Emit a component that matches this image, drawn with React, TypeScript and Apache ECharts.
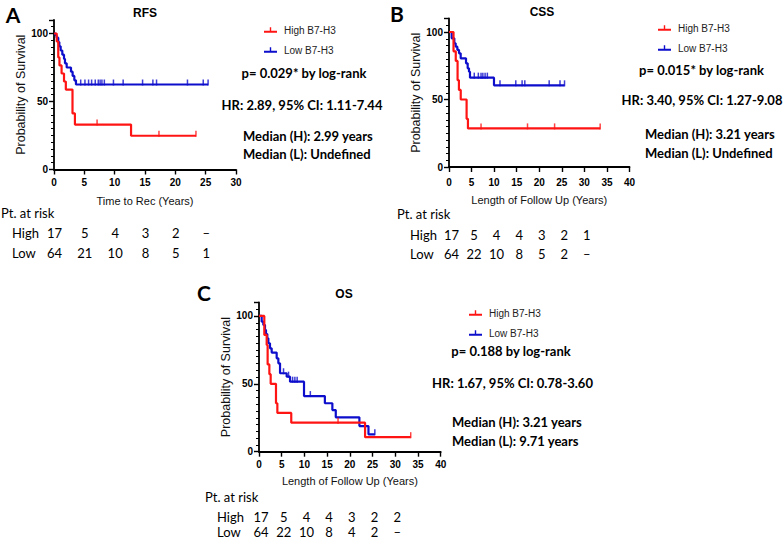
import React, { useEffect, useRef } from "react";
import * as echarts from "echarts";

// ---------------- DATA ----------------
// RFS (panel A)
const rfsHighT = [0, 0.45, 0.7, 0.9, 1.25, 1.65, 1.95, 3.05, 3.45, 12.7, 23.4];
const rfsHighS = [100, 94.1, 82.4, 76.5, 70.6, 64.7, 58.8, 41.2, 33.0, 24.8, 24.8];
const rfsHighCensor = [7.1, 17.3, 23.4];
const rfsLowT = [0, 0.3, 0.44, 0.7, 0.88, 1.1, 1.37, 1.65, 1.81, 2.09, 2.8, 3.07, 3.35, 3.62, 25.4];
const rfsLowS = [100, 98.4, 96.9, 93.7, 90.6, 87.5, 84.4, 81.3, 78.1, 75.0, 71.9, 68.8, 65.6, 62.5, 62.5];
const rfsLowCensor = [4.4, 5.1, 5.7, 6.2, 6.8, 7.3, 7.6, 7.9, 8.3, 9.8, 11.4, 14.6, 16.3, 16.9, 22.0, 24.6, 25.4];

// CSS (panel B)
const cssHighT = [0, 1.0, 1.5, 1.9, 2.2, 2.6, 3.9, 4.2, 33.5];
const cssHighS = [100, 85.7, 78.6, 64.3, 57.1, 50.0, 35.7, 28.6, 28.6];
const cssHighCensor = [7.1, 17.4, 23.4, 33.5];
const cssLowT = [0, 0.59, 1.18, 1.48, 1.85, 2.22, 2.59, 3.77, 4.14, 4.43, 4.65, 9.97, 25.6];
const cssLowS = [100, 95.3, 91.6, 89.1, 86.7, 84.2, 80.5, 76.8, 73.1, 70.6, 66.2, 60.5, 60.5];
const cssLowCensor = [5.6, 6.5, 7.1, 7.5, 8.0, 8.5, 11.3, 14.8, 16.2, 16.8, 22.2, 24.6, 25.6];

// OS (panel C)
const osHighT = [0, 1.17, 1.69, 1.9, 2.28, 2.57, 3.74, 4.04, 7.1, 23.35, 33.4];
const osHighS = [100, 86.0, 78.6, 64.3, 57.1, 50.0, 35.7, 28.6, 21.4, 10.7, 10.7];
const osHighCensor = [17.4, 33.4];
const osLowT = [0, 0.59, 0.95, 1.32, 1.54, 1.83, 2.06, 2.42, 2.79, 3.89, 4.26, 4.63, 6.09, 6.83, 9.91, 14.5, 16.15, 16.9, 22.1, 24.1, 25.5];
const osLowS = [100, 95.8, 93.4, 89.7, 86.7, 83.5, 79.9, 76.2, 73.0, 68.8, 65.1, 57.8, 55.3, 51.6, 41.0, 35.7, 30.7, 25.3, 18.9, 12.8, 12.8];
const osLowCensor = [5.4, 6.5, 7.4, 7.9, 8.4, 11.3, 25.5];

// Numbers at risk
const riskTimesA = [0, 5, 10, 15, 20, 25];
const riskHighA = ["17", "5", "4", "3", "2", "–"];
const riskLowA = ["64", "21", "10", "8", "5", "1"];
const riskTimesB = [0, 5, 10, 15, 20, 25, 30];
const riskHighB = ["17", "5", "4", "4", "3", "2", "1"];
const riskLowB = ["64", "22", "10", "8", "5", "2", "–"];
const riskTimesC = [0, 5, 10, 15, 20, 25, 30];
const riskHighC = ["17", "5", "4", "4", "3", "2", "2"];
const riskLowC = ["64", "22", "10", "8", "4", "2", "–"];

// Texts
const seriesNames = ["High B7-H3", "Low B7-H3"];
const panelLetters = ["A", "B", "C"];
const panelTitles = ["RFS", "CSS", "OS"];
const xAxisNames = ["Time to Rec (Years)", "Length of Follow Up (Years)", "Length of Follow Up (Years)"];
const yAxisName = "Probability of Survival";
const pTexts = ["p= 0.029* by log-rank", "p= 0.015* by log-rank", "p= 0.188 by log-rank"];
const hrTexts = ["HR: 2.89, 95% CI: 1.11-7.44", "HR: 3.40, 95% CI: 1.27-9.08", "HR: 1.67, 95% CI: 0.78-3.60"];
const medianHTexts = ["Median (H): 2.99 years", "Median (H): 3.21 years", "Median (H): 3.21 years"];
const medianLTexts = ["Median (L): Undefined", "Median (L): Undefined", "Median (L): 9.71 years"];
const xMaxes = [30, 40, 40];

// ---------------- STYLE / LAYOUT ----------------
const RED = "#ff1414";
const BLUE = "#0d0dcc";
const ARIAL = '"Liberation Sans", Arial, sans-serif';
const CAL = 'Lato, "Open Sans", sans-serif';

const layouts = [
  {
    grid: { left: 54, top: 19.9, width: 182, height: 149.6 },
    nameGapY: 24, nameGapX: 26, labelMarginX: 8,
    letter: [13, 14], title: [145, 13],
    legend: { left: 264, top: 23 },
    p: [304, 73], hr: [302, 105], medX: 243, medY: [136, 154],
    riskLabelX: 1, riskTitleY: 213, riskRowX: 12, riskRowY: [233, 253], riskOff: 0.5,
  },
  {
    grid: { left: 449, top: 18.5, width: 180.5, height: 148.5 },
    nameGapY: 24, nameGapX: 27, labelMarginX: 10,
    letter: [397, 13], title: [542, 12],
    legend: { left: 658, top: 21 },
    p: [701.5, 70], hr: [702, 100], medX: 645, medY: [134, 153],
    riskLabelX: 397, riskTitleY: 214, riskRowX: 410, riskRowY: [235, 254], riskOff: 2.5,
  },
  {
    grid: { left: 259, top: 302.4, width: 181.7, height: 149.3 },
    nameGapY: 21, nameGapX: 24, labelMarginX: 8,
    letter: [204, 292], title: [344, 294],
    legend: { left: 469, top: 306 },
    p: [511, 351], hr: [512.5, 383], medX: 452, medY: [422, 441],
    riskLabelX: 205, riskTitleY: 497, riskRowX: 217, riskRowY: [517, 532], riskOff: 2,
  },
];

const curves = [
  { high: [rfsHighT, rfsHighS, rfsHighCensor], low: [rfsLowT, rfsLowS, rfsLowCensor] },
  { high: [cssHighT, cssHighS, cssHighCensor], low: [cssLowT, cssLowS, cssLowCensor] },
  { high: [osHighT, osHighS, osHighCensor], low: [osLowT, osLowS, osLowCensor] },
];
const risks = [
  { times: riskTimesA, high: riskHighA, low: riskLowA },
  { times: riskTimesB, high: riskHighB, low: riskLowB },
  { times: riskTimesC, high: riskHighC, low: riskLowC },
];

function survAt(T: number[], S: number[], t: number) {
  let s = S[0];
  for (let i = 0; i < T.length; i++) if (T[i] <= t) s = S[i];
  return s;
}

const LEGEND_ICON = "path://M0,4L13,4L13,6L0,6Z M5.8,0.5L7.2,0.5L7.2,4L5.8,4Z";

export default function App() {
  const ref = useRef<HTMLDivElement>(null);
  useEffect(() => {
    if (!ref.current) return;
    const chart = echarts.init(ref.current, null, { renderer: "svg" });

    const grids: any[] = [];
    const xAxes: any[] = [];
    const yAxes: any[] = [];
    const series: any[] = [];
    const legends: any[] = [];

    layouts.forEach((L, k) => {
      grids.push({ ...L.grid, containLabel: false, outerBoundsMode: "none", show: false });
      xAxes.push({
        gridIndex: k, type: "value", min: 0, max: xMaxes[k], interval: 5,
        axisLine: { show: true, onZero: false, lineStyle: { color: "#000", width: 1.8 } },
        axisTick: { show: true, length: 5, lineStyle: { color: "#000", width: 1.4 } },
        splitLine: { show: false },
        axisLabel: { show: true, margin: L.labelMarginX, fontSize: 10, fontWeight: "bold", fontFamily: ARIAL, color: "#000", hideOverlap: false },
        name: xAxisNames[k], nameLocation: "middle", nameGap: L.nameGapX,
        nameTextStyle: { fontSize: 11, fontFamily: ARIAL, color: "#111" },
      });
      yAxes.push({
        gridIndex: k, type: "value", min: 0, max: 110, interval: 50,
        axisLine: { show: true, onZero: false, lineStyle: { color: "#000", width: 1.8 } },
        axisTick: { show: true, length: 5, lineStyle: { color: "#000", width: 1.4 } },
        minorTick: { show: true, splitNumber: 10, length: 3, lineStyle: { color: "#000", width: 1 } },
        splitLine: { show: false }, minorSplitLine: { show: false },
        axisLabel: {
          show: true, margin: 6, fontSize: 10, fontWeight: "bold", fontFamily: ARIAL, color: "#000",
          formatter: (v: number) => (v % 50 === 0 ? String(v) : ""), hideOverlap: false,
        },
        name: yAxisName, nameLocation: "middle", nameGap: L.nameGapY,
        nameTextStyle: { fontSize: 12.5, fontFamily: ARIAL, color: "#111" },
      });

      const c = curves[k];
      [c.high, c.low].forEach((arr, j) => {
        const [T, S, C] = arr as number[][];
        const color = j === 0 ? RED : BLUE;
        series.push({
          name: seriesNames[j], type: "line", xAxisIndex: k, yAxisIndex: k,
          data: T.map((t, i) => [t, S[i]]), step: "end", showSymbol: false, symbol: "none",
          lineStyle: { color, width: 2.2 }, itemStyle: { color }, z: j === 0 ? 3 : 2,
        });
        series.push({
          name: seriesNames[j] + " censored", type: "scatter", xAxisIndex: k, yAxisIndex: k,
          data: C.map((t) => [t, survAt(T, S, t)]), symbol: "rect", symbolSize: [1.5, 6], symbolOffset: [0, -2],
          itemStyle: { color }, z: j === 0 ? 3 : 2,
        });
      });

      legends.push({
        show: true, orient: "vertical", left: L.legend.left, top: L.legend.top,
        data: seriesNames, itemWidth: 13, itemHeight: 6, itemGap: 6, icon: LEGEND_ICON, selectedMode: false,
        textStyle: { fontSize: 10, fontFamily: ARIAL, color: "#222", lineHeight: 14, padding: [0, 0, 0, 2] },
        padding: 0,
      });
    });

    chart.setOption({
      animation: false,
      backgroundColor: "#fff",
      grid: grids, xAxis: xAxes, yAxis: yAxes, series, legend: legends,
    });

    const g: any[] = [];
    const txt = (text: string, x: number, y: number, font: any, align = "center") =>
      g.push({ type: "text", x, y, silent: true, style: { text, align, verticalAlign: "middle", fill: "#000", ...font } });

    layouts.forEach((L, k) => {
      txt(panelLetters[k], L.letter[0], L.letter[1], { fontSize: 21, fontWeight: "bold", fontFamily: CAL });
      txt(panelTitles[k], L.title[0], L.title[1], { fontSize: 12, fontWeight: "bold", fontFamily: ARIAL });
      const statFont = { fontSize: 13, fontWeight: "bold", fontFamily: CAL };
      txt(pTexts[k], L.p[0], L.p[1], statFont);
      txt(hrTexts[k], L.hr[0], L.hr[1], statFont);
      txt(medianHTexts[k], L.medX, L.medY[0], statFont, "left");
      txt(medianLTexts[k], L.medX, L.medY[1], statFont, "left");
      const riskFont = { fontSize: 13, fontFamily: CAL, fill: "#000" };
      txt("Pt. at risk", L.riskLabelX, L.riskTitleY, riskFont, "left");
      txt("High", L.riskRowX, L.riskRowY[0], riskFont, "left");
      txt("Low", L.riskRowX, L.riskRowY[1], riskFont, "left");
      const R = risks[k];
      R.times.forEach((t, i) => {
        const px = chart.convertToPixel({ xAxisIndex: k } as any, t) as number;
        txt(R.high[i], px + L.riskOff, L.riskRowY[0], riskFont);
        txt(R.low[i], px + L.riskOff, L.riskRowY[1], riskFont);
      });
    });

    chart.setOption({ graphic: g });
    return () => chart.dispose();
  }, []);

  return (
    <div
      ref={ref}
      style={{ position: "absolute", left: 0, top: 0, width: 784, height: 543, background: "#fff" }}
    />
  );
}
